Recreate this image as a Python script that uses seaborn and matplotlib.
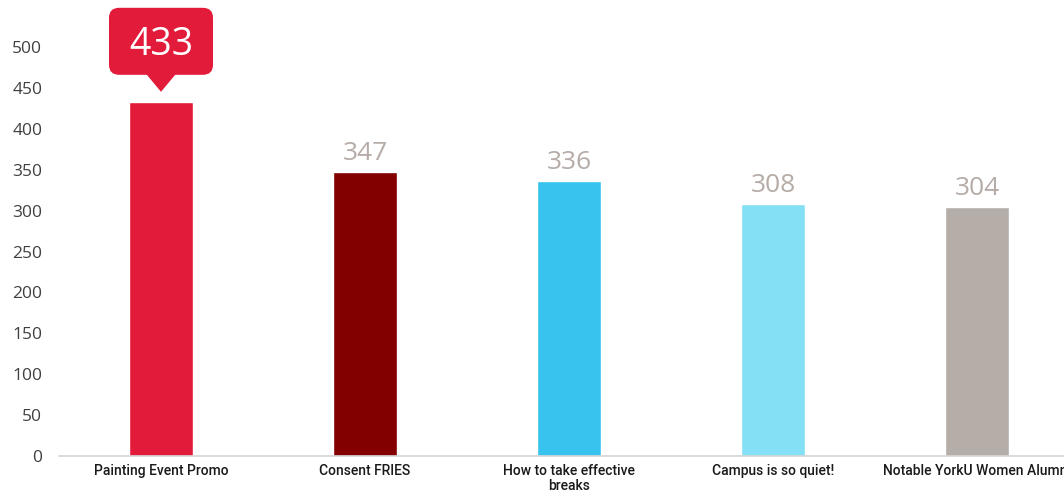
import matplotlib
matplotlib.use("Agg")
import matplotlib.pyplot as plt
import matplotlib.transforms as mtransforms
from matplotlib.patches import FancyBboxPatch, Polygon
import seaborn as sns
import pandas as pd

categories = ["Painting Event Promo", "Consent FRIES", "How to take effective\nbreaks",
              "Campus is so quiet!", "Notable YorkU Women Alumni"]
views = [433, 347, 336, 308, 304]
bar_colors = ["#e31b3b", "#820000", "#38c3ee", "#84e1f5", "#b5ada8"]
y_ticks = list(range(0, 501, 50))

sns.set_theme(style="white")
plt.rcParams["font.family"] = ["Open Sans", "DejaVu Sans"]

df = pd.DataFrame({"post": categories, "views": views})

fig = plt.figure(figsize=(10.64, 4.96), dpi=100)
ax = fig.add_axes([59 / 1064, 40 / 496, 1020 / 1064, 456 / 496])

sns.barplot(data=df, x="post", y="views", hue="post", palette=bar_colors,
            legend=False, width=0.314, saturation=1, ax=ax)

ax.set_xlim(-0.5, 4.5)
ax.set_ylim(0, 456 / 0.818)
ax.set_yticks(y_ticks)
ax.set_yticklabels([str(t) for t in y_ticks])
ax.set_xlabel("")
ax.set_ylabel("")

for side in ["top", "right", "left"]:
    ax.spines[side].set_visible(False)
ax.spines["bottom"].set_color("#d4d4d4")
ax.spines["bottom"].set_linewidth(1.2)

ax.tick_params(axis="y", length=0, pad=12, labelsize=12.5, labelcolor="#404040")
ax.tick_params(axis="x", length=0, pad=6, labelsize=10, labelcolor="#1a1a1a")
for lab in ax.get_xticklabels():
    lab.set_fontfamily(["Roboto", "DejaVu Sans"])
    lab.set_fontweight("medium")
    lab.set_linespacing(1.05)

# value labels above the remaining bars
for i, v in enumerate(views[1:], start=1):
    ax.annotate(str(v), (i, v), xytext=(0, 8.6), textcoords="offset points",
                ha="center", va="baseline", fontsize=19, color="#b5aca7")

# callout bubble for the leading post (geometry in inches, anchored at bar top)
top_x, top_y = 0, views[0]
anchor = fig.dpi_scale_trans + mtransforms.ScaledTranslation(top_x, top_y, ax.transData)
box = FancyBboxPatch((-0.52, 0.27), 1.04, 0.67,
                     boxstyle="round,pad=0,rounding_size=0.1",
                     fc=bar_colors[0], ec="none", transform=anchor, clip_on=False)
pointer = Polygon([(-0.15, 0.28), (0.15, 0.28), (0, 0.10)], closed=True,
                  fc=bar_colors[0], ec="none", transform=anchor, clip_on=False)
ax.add_patch(box)
ax.add_patch(pointer)
ax.text(0, 0.47, str(views[0]), transform=anchor, ha="center", va="baseline",
        fontsize=27, color="white", clip_on=False)

fig.savefig("out.png", dpi=100)
